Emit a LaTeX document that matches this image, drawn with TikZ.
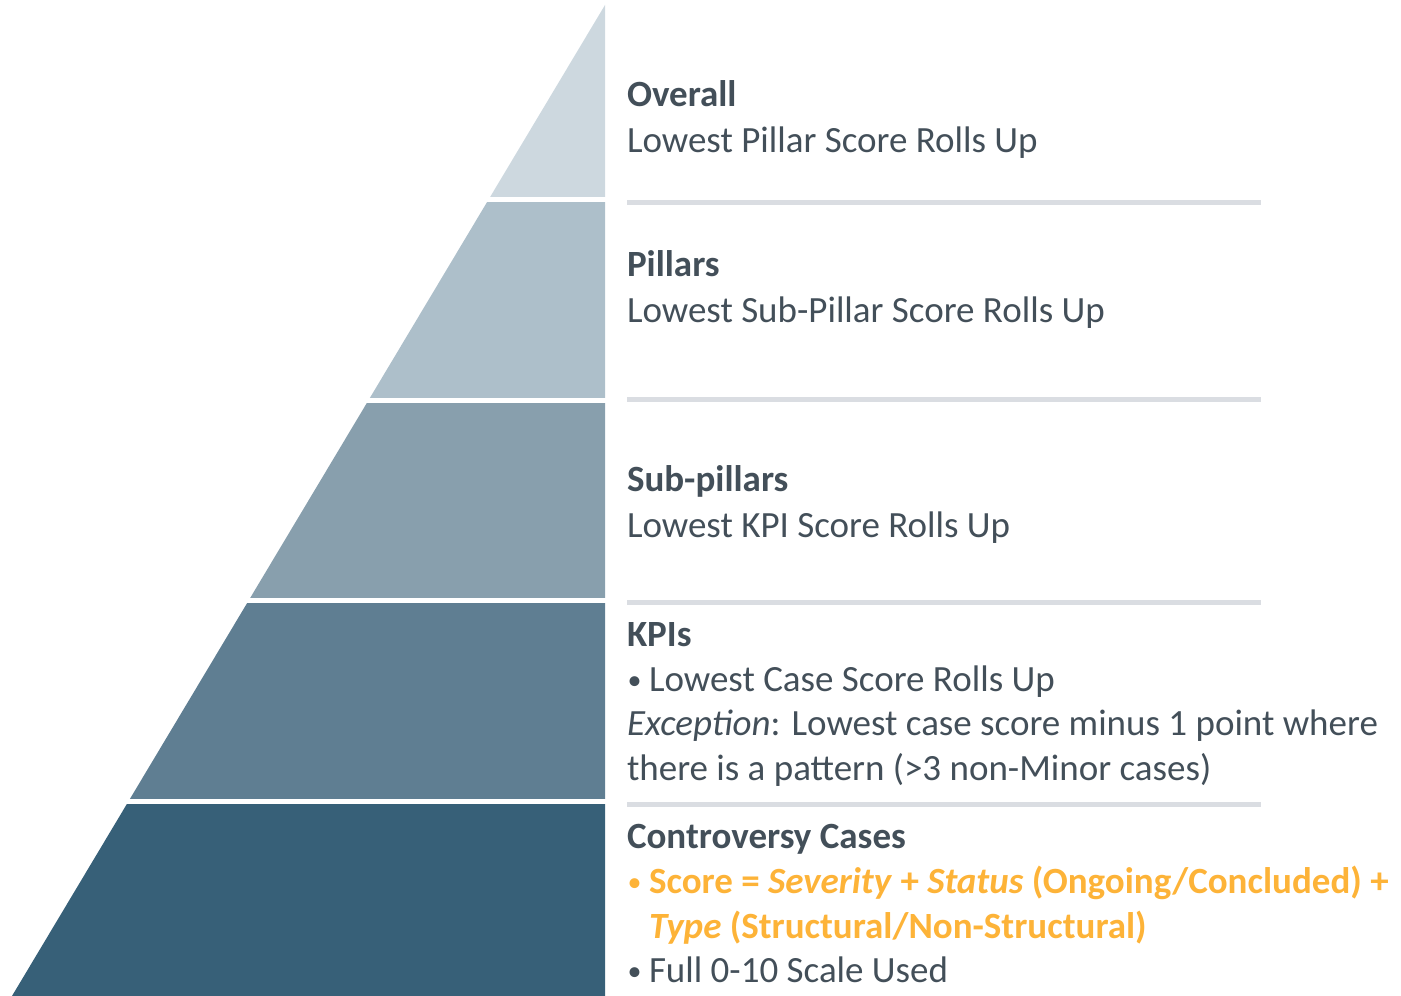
\documentclass[tikz,border=0pt]{standalone}
\usepackage{fontspec}
\setmainfont{Carlito}
\definecolor{lay1}{HTML}{CDD8DF}
\definecolor{lay2}{HTML}{ADBFCA}
\definecolor{lay3}{HTML}{889FAD}
\definecolor{lay4}{HTML}{5F7E92}
\definecolor{lay5}{HTML}{376078}
\definecolor{sepgray}{HTML}{DADDE2}
\definecolor{txtdark}{HTML}{434F59}
\definecolor{orng}{HTML}{FDB338}
\tikzset{
  lbl/.style={anchor=base west, inner sep=0pt, outer sep=0pt, text=txtdark,
    font=\fontsize{37}{45}\selectfont},
  hdr/.style={lbl, font=\fontsize{37}{45}\selectfont\bfseries},
  sepline/.style={draw=sepgray, line width=5pt},
}
\newcommand{\pyr}[1]{\fill[#1] (605,991) -- (12,0) -- (605,0) -- cycle;}
\newcommand{\bul}{\makebox[22pt][l]{\hspace*{0.5pt}\raisebox{2pt}{\fontsize{28}{28}\selectfont\mdseries •}}}
\begin{document}
\begin{tikzpicture}[x=1pt,y=1pt]
\useasboundingbox (0,0) rectangle (1401,996);
% pyramid layers
\begin{scope}\clip (0,799) rectangle (606,996); \pyr{lay1} \end{scope}
\begin{scope}\clip (0,598) rectangle (606,793); \pyr{lay2} \end{scope}
\begin{scope}\clip (0,398) rectangle (606,592); \pyr{lay3} \end{scope}
\begin{scope}\clip (0,197) rectangle (606,392); \pyr{lay4} \end{scope}
\begin{scope}\clip (0,0) rectangle (606,191); \pyr{lay5} \end{scope}
% separator lines
\coordinate (s1a) at (627,793); \coordinate (s1b) at (1261,793);
\coordinate (s2a) at (627,596); \coordinate (s2b) at (1261,596);
\coordinate (s3a) at (627,393); \coordinate (s3b) at (1261,393);
\coordinate (s4a) at (627,191); \coordinate (s4b) at (1261,191);
\draw[sepline] (s1a) -- (s1b);
\draw[sepline] (s2a) -- (s2b);
\draw[sepline] (s3a) -- (s3b);
\draw[sepline] (s4a) -- (s4b);
% texts
\node[hdr] (h1) at (627,889) {Overall};
\node[lbl] (b1) at (627,843) {Lowest Pillar Score Rolls Up};
\node[hdr] (h2) at (627,719) {Pillars};
\node[lbl] (b2) at (627,673) {Lowest Sub-Pillar Score Rolls Up};
\node[hdr] (h3) at (627,504) {Sub-pillars};
\node[lbl] (b3) at (627,458) {Lowest KPI Score Rolls Up};
\node[hdr] (h4) at (627,349) {KPIs};
\node[lbl] (b4a) at (627,304) {\bul Lowest Case Score Rolls Up};
\node[lbl] (b4b) at (627,260) {\textit{Exception}: Lowest case score minus 1 point where};
\node[lbl] (b4c) at (627,215) {there is a pattern (>3 non-Minor cases)};
\node[hdr] (h5) at (627,147) {Controversy Cases};
\node[hdr, text=orng] (b5a) at (627,102) {\bul Score = \textit{Severity} + \textit{Status} (Ongoing/Concluded) +};
\node[hdr, text=orng] (b5b) at (649,57) {\textit{Type} (Structural/Non-Structural)};
\node[lbl] (b5c) at (627,13) {\bul Full 0-10 Scale Used};
\end{tikzpicture}
\end{document}
